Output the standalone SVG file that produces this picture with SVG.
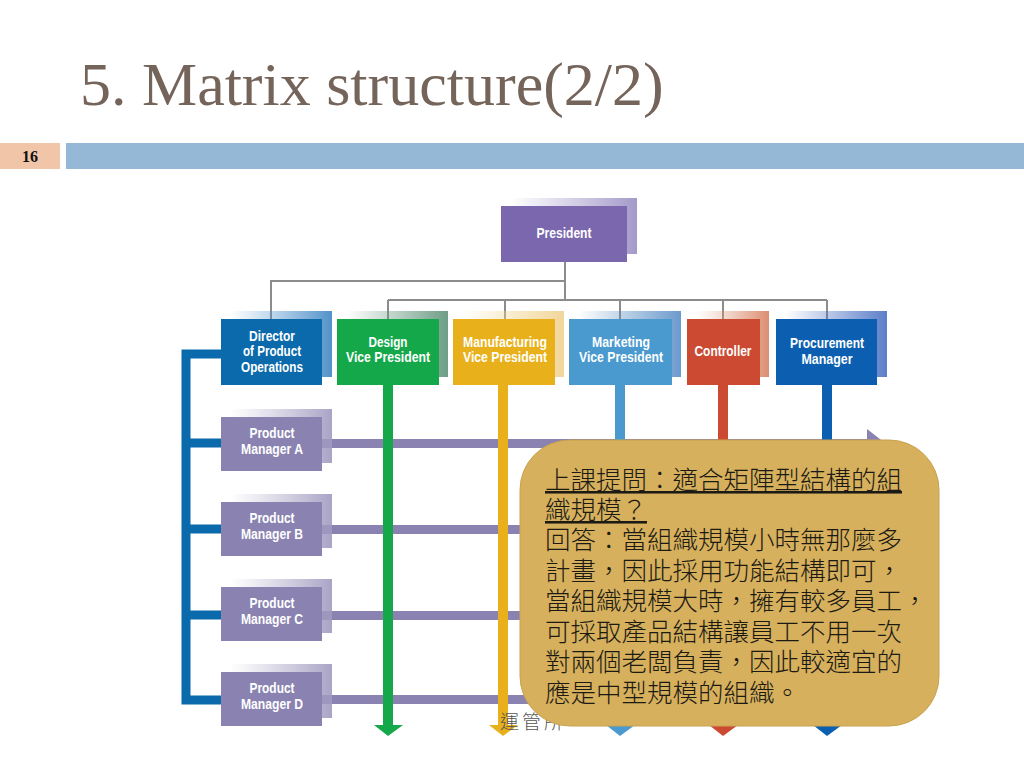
<svg xmlns="http://www.w3.org/2000/svg" width="1024" height="768" viewBox="0 0 1024 768">
<defs>
<style>
.lbl{font-family:"Liberation Sans",Arial,sans-serif;font-weight:bold;font-size:14px;fill:#fff;text-anchor:middle}
.conn{stroke:#8c8c8c;stroke-width:2;fill:none}
.cjk{font-family:"Noto Sans CJK TC","Noto Sans CJK SC",sans-serif;font-size:25.5px;font-weight:300;fill:#1c1a14}
</style>
<linearGradient id="gPres" x1="0" y1="0" x2="1" y2="0"><stop offset="0" stop-color="#a89cc9" stop-opacity="0"/><stop offset="1" stop-color="#9a8ec4" stop-opacity="0.9"/></linearGradient>
<linearGradient id="gDir" x1="0" y1="0" x2="1" y2="0"><stop offset="0" stop-color="#5a9ad0" stop-opacity="0"/><stop offset="1" stop-color="#3f86c4" stop-opacity="0.9"/></linearGradient>
<linearGradient id="gDes" x1="0" y1="0" x2="1" y2="0"><stop offset="0" stop-color="#6a9a80" stop-opacity="0"/><stop offset="1" stop-color="#5e937a" stop-opacity="0.9"/></linearGradient>
<linearGradient id="gMan" x1="0" y1="0" x2="1" y2="0"><stop offset="0" stop-color="#f3d58a" stop-opacity="0"/><stop offset="1" stop-color="#f0d290" stop-opacity="0.9"/></linearGradient>
<linearGradient id="gMar" x1="0" y1="0" x2="1" y2="0"><stop offset="0" stop-color="#5b8fc0" stop-opacity="0"/><stop offset="1" stop-color="#5b8fc8" stop-opacity="0.9"/></linearGradient>
<linearGradient id="gCon" x1="0" y1="0" x2="1" y2="0"><stop offset="0" stop-color="#e0a080" stop-opacity="0"/><stop offset="1" stop-color="#d88060" stop-opacity="0.9"/></linearGradient>
<linearGradient id="gPro" x1="0" y1="0" x2="1" y2="0"><stop offset="0" stop-color="#4a70c0" stop-opacity="0"/><stop offset="1" stop-color="#4a70c4" stop-opacity="0.9"/></linearGradient>
<linearGradient id="gPM" x1="0" y1="0" x2="1" y2="0"><stop offset="0" stop-color="#b0abc8" stop-opacity="0"/><stop offset="1" stop-color="#9f9ac0" stop-opacity="0.9"/></linearGradient>
</defs>
<rect width="1024" height="768" fill="#ffffff"/>

<text x="80" y="105" font-family="'Liberation Serif',serif" font-size="62" fill="#74645a">5. Matrix structure(2/2)</text>
<rect x="0" y="143" width="60" height="26" fill="#f0c5a8"/>
<text x="30" y="162" font-family="'Liberation Serif',serif" font-weight="bold" font-size="16" fill="#111" text-anchor="middle">16</text>
<rect x="66" y="143" width="958" height="26" fill="#94b8d6"/>

<g id="connectors">
<path class="conn" d="M565,262 V300 M565,281 H271 V319 M388,300 H827 M388,300 V319 M505,300 V319 M620,300 V319 M723,300 V319 M827,300 V319"/>
<g fill="#8a83b1">
<rect x="322" y="439" width="548" height="9"/>
<rect x="322" y="525" width="548" height="9"/>
<rect x="322" y="611" width="548" height="9"/>
<rect x="322" y="695" width="548" height="9"/>
<polygon points="867,429 885,443 867,457"/>
<polygon points="867,515 885,529 867,543"/>
<polygon points="867,601 885,615 867,629"/>
<polygon points="867,686 885,700 867,714"/>
</g>
<path d="M221,354 H186 V700 H221 M186,443 H221 M186,529 H221 M186,615 H221" stroke="#0b6aab" stroke-width="9" fill="none"/>
<g>
<rect x="383" y="385" width="10" height="341" fill="#14a84b"/><polygon points="374,725 403,725 388,736" fill="#14a84b"/>
<rect x="498" y="385" width="10" height="341" fill="#e8b11b"/><polygon points="489,725 518,725 503,736" fill="#e8b11b"/>
<rect x="615" y="385" width="10" height="341" fill="#4a9ad0"/><polygon points="606,725 635,725 620,736" fill="#4a9ad0"/>
<rect x="718" y="385" width="10" height="341" fill="#cc4a32"/><polygon points="709,725 738,725 723,736" fill="#cc4a32"/>
<rect x="822" y="385" width="10" height="341" fill="#0c5fb0"/><polygon points="813,725 842,725 827,736" fill="#0c5fb0"/>
</g>
</g>

<g id="president">
<rect x="510" y="198" width="127" height="56" fill="url(#gPres)"/>
<rect x="501" y="206" width="126" height="56" fill="#7b67ae"/>
<text class="lbl" x="564" y="238" textLength="55" lengthAdjust="spacingAndGlyphs">President</text>
</g>
<g id="director">
<rect x="230" y="311" width="102" height="66" fill="url(#gDir)"/>
<rect x="221" y="319" width="101" height="66" fill="#0b6aab"/>
<text class="lbl" x="272" y="341" textLength="46" lengthAdjust="spacingAndGlyphs">Director</text>
<text class="lbl" x="272" y="356" textLength="58" lengthAdjust="spacingAndGlyphs">of Product</text>
<text class="lbl" x="272" y="372" textLength="62" lengthAdjust="spacingAndGlyphs">Operations</text>
</g>
<g id="design">
<rect x="346" y="311" width="102" height="66" fill="url(#gDes)"/>
<rect x="337" y="319" width="102" height="66" fill="#14a84b"/>
<text class="lbl" x="388" y="347" textLength="39" lengthAdjust="spacingAndGlyphs">Design</text>
<text class="lbl" x="388" y="362" textLength="84" lengthAdjust="spacingAndGlyphs">Vice President</text>
</g>
<g id="manufacturing">
<rect x="462" y="311" width="102" height="66" fill="url(#gMan)"/>
<rect x="453" y="319" width="102" height="66" fill="#e8b11b"/>
<text class="lbl" x="505" y="347" textLength="84" lengthAdjust="spacingAndGlyphs">Manufacturing</text>
<text class="lbl" x="505" y="362" textLength="84" lengthAdjust="spacingAndGlyphs">Vice President</text>
</g>
<g id="marketing">
<rect x="578" y="311" width="103" height="66" fill="url(#gMar)"/>
<rect x="569" y="319" width="103" height="66" fill="#4a9ad0"/>
<text class="lbl" x="621" y="347" textLength="58" lengthAdjust="spacingAndGlyphs">Marketing</text>
<text class="lbl" x="621" y="362" textLength="84" lengthAdjust="spacingAndGlyphs">Vice President</text>
</g>
<g id="controller">
<rect x="696" y="311" width="73" height="66" fill="url(#gCon)"/>
<rect x="687" y="319" width="73" height="66" fill="#cc4a32"/>
<text class="lbl" x="723" y="356" textLength="57" lengthAdjust="spacingAndGlyphs">Controller</text>
</g>
<g id="procurement">
<rect x="785" y="311" width="102" height="66" fill="url(#gPro)"/>
<rect x="776" y="319" width="101" height="66" fill="#0c5fb0"/>
<text class="lbl" x="827" y="348" textLength="74" lengthAdjust="spacingAndGlyphs">Procurement</text>
<text class="lbl" x="827" y="364" textLength="51" lengthAdjust="spacingAndGlyphs">Manager</text>
</g>
<g id="pmA">
<rect x="230" y="409" width="102" height="54" fill="url(#gPM)"/>
<rect x="221" y="417" width="101" height="54" fill="#8a83b1"/>
<text class="lbl" x="272" y="438" textLength="45" lengthAdjust="spacingAndGlyphs">Product</text>
<text class="lbl" x="272" y="454" textLength="62" lengthAdjust="spacingAndGlyphs">Manager A</text>
</g>
<g id="pmB">
<rect x="230" y="494" width="102" height="54" fill="url(#gPM)"/>
<rect x="221" y="502" width="101" height="54" fill="#8a83b1"/>
<text class="lbl" x="272" y="523" textLength="45" lengthAdjust="spacingAndGlyphs">Product</text>
<text class="lbl" x="272" y="539" textLength="62" lengthAdjust="spacingAndGlyphs">Manager B</text>
</g>
<g id="pmC">
<rect x="230" y="579" width="102" height="54" fill="url(#gPM)"/>
<rect x="221" y="587" width="101" height="54" fill="#8a83b1"/>
<text class="lbl" x="272" y="608" textLength="45" lengthAdjust="spacingAndGlyphs">Product</text>
<text class="lbl" x="272" y="624" textLength="62" lengthAdjust="spacingAndGlyphs">Manager C</text>
</g>
<g id="pmD">
<rect x="230" y="664" width="102" height="54" fill="url(#gPM)"/>
<rect x="221" y="672" width="101" height="54" fill="#8a83b1"/>
<text class="lbl" x="272" y="693" textLength="45" lengthAdjust="spacingAndGlyphs">Product</text>
<text class="lbl" x="272" y="709" textLength="62" lengthAdjust="spacingAndGlyphs">Manager D</text>
</g>

<text x="500" y="729" font-family="'Noto Sans CJK TC',serif" font-size="19" font-weight="300" fill="#555" letter-spacing="3">運管所</text>

<g id="callout">
<rect x="520" y="440" width="419" height="286" rx="50" ry="50" fill="#d6b05c" stroke="#c9a24e" stroke-width="1"/>
<text class="cjk"><tspan x="545" y="489" text-decoration="underline">上課提問：適合矩陣型結構的組</tspan><tspan x="545" y="519" text-decoration="underline">織規模？</tspan><tspan x="545" y="549">回答：當組織規模小時無那麼多</tspan><tspan x="545" y="580">計畫，因此採用功能結構即可，</tspan><tspan x="545" y="610">當組織規模大時，擁有較多員工，</tspan><tspan x="545" y="641">可採取產品結構讓員工不用一次</tspan><tspan x="545" y="671">對兩個老闆負責，因此較適宜的</tspan><tspan x="545" y="702">應是中型規模的組織。</tspan></text>
</g>
</svg>
